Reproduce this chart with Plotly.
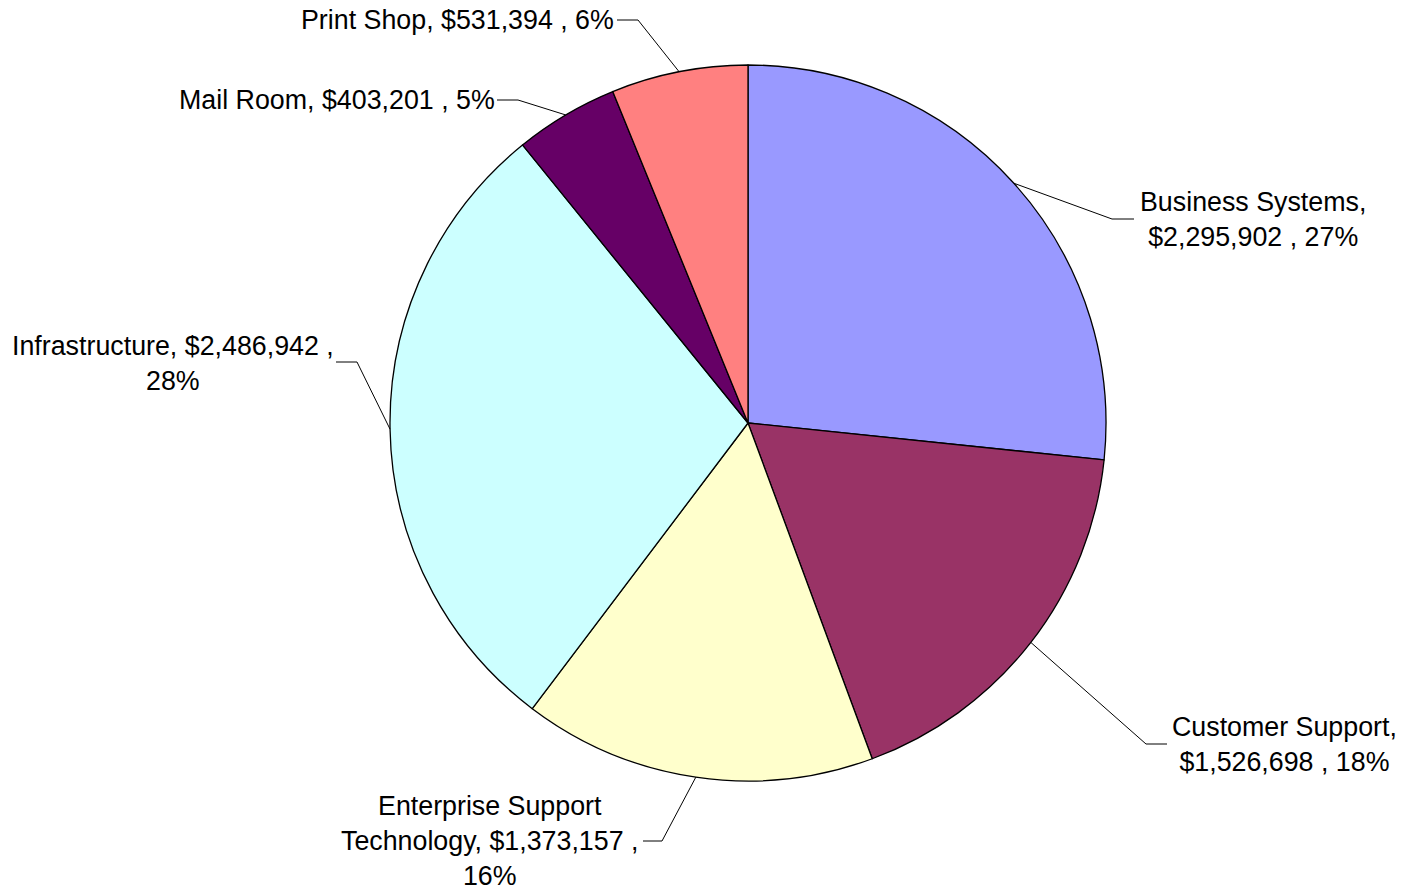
import math
import plotly.graph_objects as go

# ---- data ----
labels = ["Business Systems", "Customer Support", "Enterprise Support Technology",
          "Infrastructure", "Mail Room", "Print Shop"]
values = [2295902, 1526698, 1373157, 2486942, 403201, 531394]
pct_text = ["27%", "18%", "16%", "28%", "5%", "6%"]
label_text = [
    "Business Systems,<br>$2,295,902 , 27%",
    "Customer Support,<br>$1,526,698 , 18%",
    "Enterprise Support<br>Technology, $1,373,157 ,<br>16%",
    "Infrastructure, $2,486,942 ,<br>28%",
    "Mail Room, $403,201 , 5%",
    "Print Shop, $531,394 , 6%",
]
colors = ["#9999FF", "#993366", "#FFFFCC", "#CCFFFF", "#660066", "#FF8080"]

# ---- layout (pixels) ----
W, H = 1405, 890
CX, CY, R = 748, 423, 358
# label placement: (text x, text y, xanchor, elbow x, elbow y, end x)
label_pos = [
    (1253, 219, "center", 1112, 219, 1134),
    (1284, 744, "center", 1146, 744, 1167),
    (489, 841, "center", 662, 841, 643),
    (173, 363, "center", 357, 362, 336),
    (497, 100, "right", 518, 100, 497),
    (616, 20, "right", 638, 20, 617),
]

def px(x):
    return x / W

def py(y):
    return 1 - y / H

fig = go.Figure()
fig.add_trace(go.Pie(
    labels=labels, values=values, sort=False, direction="clockwise", rotation=0,
    marker=dict(colors=colors, line=dict(color="black", width=1.3)),
    textinfo="none", hoverinfo="label+value+percent", showlegend=False,
    domain=dict(x=[px(CX - R), px(CX + R)], y=[py(CY + R), py(CY - R)]),
))

total = sum(values)
cum = 0
shapes = []
annotations = []
for i, v in enumerate(values):
    mid = (cum + v / 2) / total * 2 * math.pi
    cum += v
    ax = CX + R * math.sin(mid)
    ay = CY - R * math.cos(mid)
    tx, ty, xa, ex, ey, endx = label_pos[i]
    path = f"M {px(ax)},{py(ay)} L {px(ex)},{py(ey)} L {px(endx)},{py(ey)}"
    shapes.append(dict(type="path", xref="paper", yref="paper", path=path,
                       line=dict(color="black", width=1)))
    annotations.append(dict(
        x=px(tx), y=py(ty), xref="paper", yref="paper", text=label_text[i],
        showarrow=False, xanchor=xa, yanchor="middle", align="center",
        font=dict(family="Liberation Sans, Arial", size=26.8, color="black"),
    ))

fig.update_layout(
    width=W, height=H, margin=dict(l=0, r=0, t=0, b=0),
    paper_bgcolor="white", plot_bgcolor="white",
    shapes=shapes, annotations=annotations,
)
fig.write_html("out.html")
